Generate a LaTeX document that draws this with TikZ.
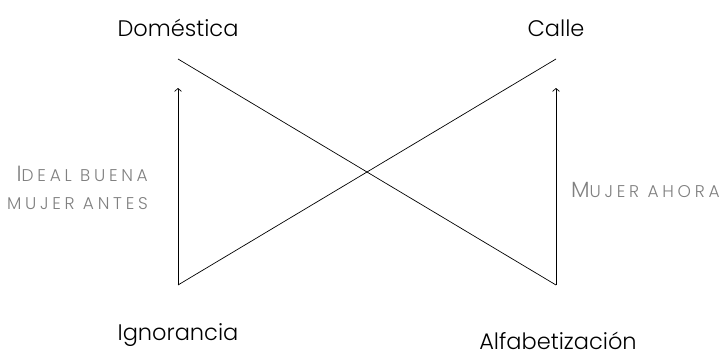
\documentclass[tikz,border=0pt]{standalone}
\usepackage{fontspec}
\setmainfont{Poppins Light}
\usetikzlibrary{arrows.meta}
\definecolor{lblgray}{RGB}{128,128,128}
\newcommand{\bigc}[1]{{\fontsize{22}{24}\selectfont #1}}
\tikzset{
  term/.style={font=\fontsize{22.5}{26}\selectfont, inner sep=0pt, anchor=base},
  lbl/.style={font=\fontsize{17}{28}\selectfont\addfontfeatures{LetterSpace=22}, text=lblgray, inner sep=0pt, align=right},
  ln/.style={line width=0.7pt, draw=black},
  arr/.style={ln, -{Straight Barb[length=3pt,width=7pt]}}
}
\begin{document}
\begin{tikzpicture}[x=1pt,y=-1pt]
\useasboundingbox (0,0) rectangle (724,356);
\coordinate (tl) at (178,59);
\coordinate (tr) at (556,59);
\coordinate (bl) at (178,285);
\coordinate (br) at (556,285);
\coordinate (tla) at (178,88);
\coordinate (tra) at (556,88);
\node[term] (dom) at (178,37) {Doméstica};
\node[term] (cal) at (556,37) {Calle};
\node[term] (ign) at (178,340) {Ignorancia};
\node[term] (alf) at (558,349) {Alfabetización};
\node[lbl, anchor=base east] (ideal) at (148,209) {\bigc{I}DEAL BUENA\\MUJER ANTES};
\node[lbl, anchor=base west] (ahora) at (571,197) {\bigc{M}UJER AHORA};
\draw[ln] (tl) -- (br);
\draw[ln] (tr) -- (bl);
\draw[arr] (bl) -- (tla);
\draw[arr] (br) -- (tra);
\end{tikzpicture}
\end{document}
